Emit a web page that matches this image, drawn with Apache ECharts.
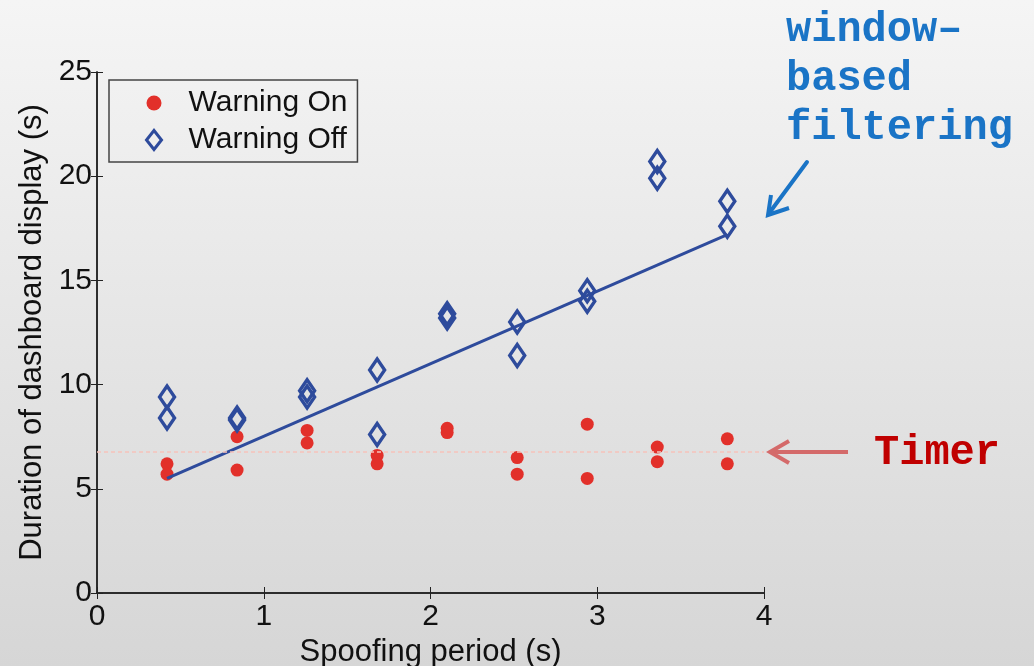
<!DOCTYPE html>
<html>
<head>
<meta charset="utf-8">
<script src="https://cdn.jsdelivr.net/npm/echarts@6/dist/echarts.min.js"></script>
<style>
  html, body { margin: 0; padding: 0; }
  #chart { width: 1034px; height: 666px; }
</style>
</head>
<body>
<div id="chart"></div>
<script>
// spoofing periods (s)
var periods = [0.42, 0.84, 1.26, 1.68, 2.10, 2.52, 2.94, 3.36, 3.78];
// Warning On, two runs per period
var onHigh = [6.2, 7.5, 7.8, 6.6, 7.9, 6.5, 8.1, 7.0, 7.4];
var onLow  = [5.7, 5.9, 7.2, 6.2, 7.7, 5.7, 5.5, 6.3, 6.2];
// Warning Off, two runs per period
var offHigh = [9.4, 8.4, 9.7, 10.7, 13.4, 13.0, 14.5, 20.7, 18.8];
var offLow  = [8.4, 8.3, 9.4, 7.6, 13.2, 11.4, 14.0, 19.9, 17.6];
// fitted trend of Warning Off
var trendX = [0.42, 3.78];
var trendY = [5.5, 17.2];
// timer level (s)
var timerLevel = 6.78;

var xTicks = [0, 1, 2, 3, 4];
var yTicks = [0, 5, 10, 15, 20, 25];

function pairs(xs, a, b) {
    var out = [];
    for (var i = 0; i < xs.length; i++) {
        out.push([xs[i], a[i]]);
        out.push([xs[i], b[i]]);
    }
    return out;
}

var RED = '#e2302a';
var BLUE = '#2e4b9c';
var FONT = '"Liberation Sans", Arial, sans-serif';
var MONO = '"Courier New", "Liberation Mono", monospace';

var myChart = echarts.init(document.getElementById('chart'));

var frameAxis = {
    axisLine: { show: true, lineStyle: { color: '#222', width: 1.5 } },
    axisTick: { show: true, inside: true, length: 6, lineStyle: { color: '#222', width: 1 } },
    splitLine: { show: false }
};

var option = {
    backgroundColor: {
        type: 'linear', x: 0, y: 0, x2: 0, y2: 1,
        colorStops: [{ offset: 0, color: '#f5f5f5' }, { offset: 1, color: '#d6d6d6' }]
    },
    animation: false,
    grid: { left: 97, right: 270, top: 72, bottom: 73, outerBoundsMode: 'none', containLabel: false },
    legend: {
        left: 109,
        top: 80,
        orient: 'vertical',
        itemWidth: 15,
        itemHeight: 19,
        itemGap: 7,
        padding: [8, 10, 7, 36],
        borderColor: '#444',
        borderWidth: 1.5,
        textStyle: { fontFamily: FONT, fontSize: 30, color: '#111', padding: [0, 0, 0, 22] },
        data: [
            { name: 'Warning On', icon: 'circle', itemStyle: { color: RED, borderWidth: 0 } },
            { name: 'Warning Off', icon: 'diamond', itemStyle: { color: 'rgba(0,0,0,0)', borderColor: BLUE, borderWidth: 3 } }
        ]
    },
    xAxis: [
        Object.assign({
            type: 'value', min: xTicks[0], max: xTicks[xTicks.length - 1], interval: 1,
            name: 'Spoofing period (s)',
            nameLocation: 'middle',
            nameGap: 38,
            nameTextStyle: { fontFamily: FONT, fontSize: 31, color: '#111' },
            axisLabel: { fontFamily: FONT, fontSize: 30, color: '#111', margin: 9 }
        }, frameAxis),
        Object.assign({
            type: 'value', position: 'top', min: xTicks[0], max: xTicks[xTicks.length - 1], interval: 1,
            axisLabel: { show: false }
        }, frameAxis)
    ],
    yAxis: [
        Object.assign({
            type: 'value', min: yTicks[0], max: yTicks[yTicks.length - 1], interval: 5,
            name: 'Duration of dashboard display (s)',
            nameLocation: 'middle',
            nameGap: 48,
            nameTextStyle: { fontFamily: FONT, fontSize: 31, color: '#111' },
            axisLabel: { fontFamily: FONT, fontSize: 30, color: '#111', margin: 5 }
        }, frameAxis),
        Object.assign({
            type: 'value', position: 'right', min: yTicks[0], max: yTicks[yTicks.length - 1], interval: 5,
            axisLabel: { show: false }
        }, frameAxis)
    ],
    series: [
        {
            name: 'Timer',
            type: 'line',
            data: [],
            markLine: {
                silent: true,
                symbol: 'none',
                label: { show: false },
                lineStyle: { color: '#f6c2ba', type: [4, 3], width: 1.5 },
                data: [{ yAxis: timerLevel }]
            }
        },
        {
            name: 'Warning On',
            type: 'scatter',
            symbol: 'circle',
            symbolSize: 13,
            itemStyle: { color: RED, opacity: 1 },
            data: pairs(periods, onHigh, onLow),
            z: 3
        },
        {
            name: 'Warning Off',
            type: 'scatter',
            symbol: 'diamond',
            symbolSize: [15, 22],
            itemStyle: { color: 'rgba(0,0,0,0)', borderColor: BLUE, borderWidth: 3.5, opacity: 1 },
            data: pairs(periods, offHigh, offLow),
            z: 3
        },
        {
            name: 'trend',
            type: 'line',
            showSymbol: false,
            symbol: 'none',
            lineStyle: { color: BLUE, width: 3 },
            data: [[trendX[0], trendY[0]], [trendX[1], trendY[1]]],
            z: 4
        }
    ],
    graphic: [
        { type: 'text', left: 786, top: 9, style: { text: 'window\u2013', font: 'bold 42px ' + MONO, fill: '#1a74c6' } },
        { type: 'text', left: 786, top: 58, style: { text: 'based', font: 'bold 42px ' + MONO, fill: '#1a74c6' } },
        { type: 'text', left: 786, top: 107, style: { text: 'filtering', font: 'bold 42px ' + MONO, fill: '#1a74c6' } },
        { type: 'line', shape: { x1: 807, y1: 162, x2: 770, y2: 212 }, style: { stroke: '#1a74c6', lineWidth: 4, lineCap: 'round' } },
        { type: 'polyline', shape: { points: [[771, 195], [768, 215], [789, 208]] }, style: { stroke: '#1a74c6', lineWidth: 4, fill: null, lineJoin: 'miter' } },
        { type: 'line', shape: { x1: 770, y1: 452, x2: 848, y2: 452 }, style: { stroke: '#d46a6a', lineWidth: 4 } },
        { type: 'polyline', shape: { points: [[789, 441], [770, 452], [789, 463]] }, style: { stroke: '#d46a6a', lineWidth: 4, fill: null } },
        { type: 'text', left: 874, top: 432, style: { text: 'Timer', font: 'bold 42px ' + MONO, fill: '#c00000' } }
    ]
};

myChart.setOption(option);
</script>
</body>
</html>
